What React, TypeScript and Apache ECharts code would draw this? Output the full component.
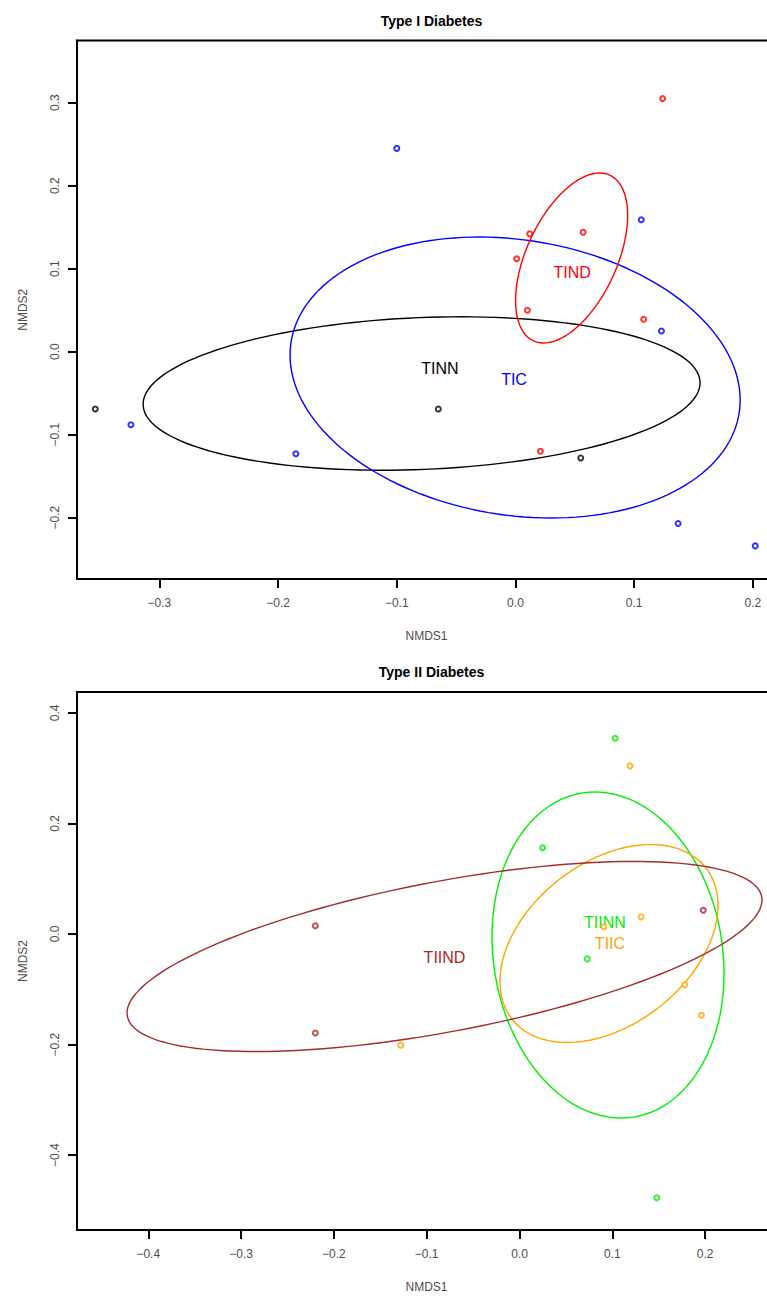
import React, { useEffect, useRef } from 'react';
import * as echarts from 'echarts';

// ---------- Type I Diabetes ----------
const t1Groups = ['TINN', 'TIC', 'TIND'];
const t1Colors = ['#000000', '#0000FF', '#FF0000'];
const tinnX = [-0.354, -0.065, 0.055];
const tinnY = [-0.069, -0.069, -0.128];
const ticX = [-0.1, 0.106, 0.123, -0.324, -0.185, 0.137, 0.202];
const ticY = [0.245, 0.159, 0.025, -0.088, -0.123, -0.207, -0.234];
const tindX = [0.124, 0.012, 0.057, 0.001, 0.01, 0.108, 0.021];
const tindY = [0.305, 0.142, 0.144, 0.112, 0.05, 0.039, -0.12];
// ellipse: centre x, centre y, conjugate semi-diameter u (x,y), v (x,y)
const t1Ellipses = [
  [-0.0791, -0.0504, 0.2346, 0.0139, 0.0026, -0.0914],
  [-0.0003, -0.0311, 0.1896, -0.0271, 0, -0.1671],
  [0.0473, 0.1129, 0.0472, 0.0512, 0, -0.0887],
];
const t1LabelX = [-0.0636, -0.0012, 0.0477];
const t1LabelY = [-0.0201, -0.0329, 0.096];
const t1XRange = [-0.3694, 0.2195];
const t1YRange = [-0.2739, 0.375];
const t1XTicks = [-0.3, -0.2, -0.1, 0, 0.1, 0.2];
const t1YTicks = [-0.2, -0.1, 0, 0.1, 0.2, 0.3];

// ---------- Type II Diabetes ----------
const t2Groups = ['TIINN', 'TIIC', 'TIIND'];
const t2Colors = ['#00EE00', '#FFA500', '#A52A2A'];
const tiinnX = [0.103, 0.025, 0.073, 0.148];
const tiinnY = [0.354, 0.156, -0.045, -0.477];
const tiicX = [0.119, 0.131, 0.091, 0.178, 0.196, -0.128];
const tiicY = [0.304, 0.031, 0.013, -0.092, -0.147, -0.201];
const tiindX = [-0.22, -0.22, 0.198];
const tiindY = [0.015, -0.179, 0.043];
const t2Ellipses = [
  [0.0954, -0.038, -0.014, 0.2948, 0.1242, 0],
  [0.0964, -0.0172, 0.1175, 0.0687, 0, -0.1653],
  [-0.0808, -0.0407, 0.3421, 0.1022, 0, -0.1382],
];
const t2LabelX = [0.0921, 0.0975, -0.0808];
const t2LabelY = [0.0199, -0.0163, -0.0434];
const t2XRange = [-0.4768, 0.2764];
const t2YRange = [-0.5353, 0.4376];
const t2XTicks = [-0.4, -0.3, -0.2, -0.1, 0, 0.1, 0.2];
const t2YTicks = [-0.4, -0.2, 0, 0.2, 0.4];

const FONT = '"Liberation Sans", Arial, Helvetica, sans-serif';
const fmt = (v: number) => {
  const s = Math.abs(v).toFixed(1);
  return v < -1e-9 ? '\u2212' + s : s;
};

function zip(xs: number[], ys: number[]) {
  return xs.map((x, i) => [x, ys[i]]);
}

function makeAxes(idx: number, xr: number[], yr: number[], xt: number[], yt: number[]) {
  const x = {
    type: 'value',
    gridIndex: idx,
    min: xr[0],
    max: xr[1],
    name: 'NMDS1',
    nameLocation: 'middle',
    nameGap: 51,
    nameTextStyle: { color: '#4d4d4d', fontSize: 12, fontFamily: FONT },
    splitLine: { show: false },
    axisLine: { show: true, onZero: false, lineStyle: { color: '#000', width: 2 } },
    axisTick: { show: true, length: 9, customValues: xt, lineStyle: { color: '#000', width: 2 } },
    axisLabel: {
      show: true,
      customValues: xt,
      margin: 18,
      formatter: fmt,
      color: '#4d4d4d',
      fontSize: 12,
      fontFamily: FONT,
    },
  };
  const y = {
    type: 'value',
    gridIndex: idx,
    min: yr[0],
    max: yr[1],
    name: 'NMDS2',
    nameLocation: 'middle',
    nameGap: 48,
    nameRotate: 90,
    nameTextStyle: { color: '#4d4d4d', fontSize: 12, fontFamily: FONT },
    splitLine: { show: false },
    axisLine: { show: true, onZero: false, lineStyle: { color: '#000', width: 2 } },
    axisTick: { show: true, length: 9, customValues: yt, lineStyle: { color: '#000', width: 2 } },
    axisLabel: {
      show: true,
      customValues: yt,
      rotate: 90,
      margin: 16,
      formatter: fmt,
      color: '#4d4d4d',
      fontSize: 12,
      fontFamily: FONT,
    },
  };
  return { x, y };
}

function ellipseSeries(idx: number, ells: number[][], colors: string[]) {
  return {
    type: 'custom',
    xAxisIndex: idx,
    yAxisIndex: idx,
    silent: true,
    z: 3,
    data: ells.map((e, i) => ({ value: e, itemStyle: { color: colors[i] } })),
    encode: { x: 0, y: 1 },
    renderItem: (params: any, api: any) => {
      const cx = api.value(0), cy = api.value(1);
      const ux = api.value(2), uy = api.value(3);
      const vx = api.value(4), vy = api.value(5);
      const pts: number[][] = [];
      const n = 160;
      for (let k = 0; k <= n; k++) {
        const t = (k / n) * Math.PI * 2;
        const c = Math.cos(t), s = Math.sin(t);
        pts.push(api.coord([cx + ux * c + vx * s, cy + uy * c + vy * s]));
      }
      return {
        type: 'polyline',
        shape: { points: pts },
        style: { stroke: colors[params.dataIndex], fill: 'none', lineWidth: 1.4 },
      };
    },
  };
}

function labelSeries(idx: number, lx: number[], ly: number[], names: string[], colors: string[]) {
  return {
    type: 'custom',
    xAxisIndex: idx,
    yAxisIndex: idx,
    silent: true,
    z: 4,
    data: lx.map((x, i) => [x, ly[i]]),
    renderItem: (params: any, api: any) => {
      const p = api.coord([api.value(0), api.value(1)]);
      return {
        type: 'text',
        x: p[0],
        y: p[1],
        style: {
          text: names[params.dataIndex],
          fill: colors[params.dataIndex],
          font: '16px ' + FONT,
          align: 'center',
          verticalAlign: 'middle',
        },
      };
    },
  };
}

function pointSeries(idx: number, name: string, data: number[][], color: string) {
  return {
    type: 'scatter',
    name,
    xAxisIndex: idx,
    yAxisIndex: idx,
    symbol: 'circle',
    symbolSize: 5,
    z: 5,
    itemStyle: { color: '#ffffff', borderColor: color, borderWidth: 2 },
    data,
  };
}

export default function App() {
  const ref = useRef<HTMLDivElement>(null);
  useEffect(() => {
    document.body.style.margin = '0';
    document.body.style.overflow = 'hidden';
    document.documentElement.style.overflow = 'hidden';
    if (!ref.current) return;
    const chart = echarts.init(ref.current, undefined, { renderer: 'svg' });
    const a1 = makeAxes(0, t1XRange, t1YRange, t1XTicks, t1YTicks);
    const a2 = makeAxes(1, t2XRange, t2YRange, t2XTicks, t2YTicks);
    const gridStyle = { show: true, borderColor: '#000', borderWidth: 2, backgroundColor: 'transparent' };
    chart.setOption({
      animation: false,
      backgroundColor: '#ffffff',
      title: [
        {
          text: 'Type I Diabetes',
          left: 426.5,
          top: 9,
          textAlign: 'center',
          textStyle: { fontSize: 14, fontWeight: 'bold', color: '#000', fontFamily: FONT },
        },
        {
          text: 'Type II Diabetes',
          left: 426.5,
          top: 660,
          textAlign: 'center',
          textStyle: { fontSize: 14, fontWeight: 'bold', color: '#000', fontFamily: FONT },
        },
      ],
      grid: [
        { left: 77, top: 40.5, width: 699, height: 538.5, ...gridStyle },
        { left: 77, top: 692, width: 699, height: 538, ...gridStyle },
      ],
      xAxis: [a1.x, a2.x],
      yAxis: [a1.y, a2.y],
      series: [
        ellipseSeries(0, t1Ellipses, t1Colors),
        labelSeries(0, t1LabelX, t1LabelY, t1Groups, t1Colors),
        pointSeries(0, 'TINN', zip(tinnX, tinnY), t1Colors[0]),
        pointSeries(0, 'TIC', zip(ticX, ticY), t1Colors[1]),
        pointSeries(0, 'TIND', zip(tindX, tindY), t1Colors[2]),
        ellipseSeries(1, t2Ellipses, t2Colors),
        labelSeries(1, t2LabelX, t2LabelY, t2Groups, t2Colors),
        pointSeries(1, 'TIINN', zip(tiinnX, tiinnY), t2Colors[0]),
        pointSeries(1, 'TIIC', zip(tiicX, tiicY), t2Colors[1]),
        pointSeries(1, 'TIIND', zip(tiindX, tiindY), t2Colors[2]),
      ],
    });
    return () => chart.dispose();
  }, []);
  return (
    <div
      ref={ref}
      style={{ position: 'absolute', left: 0, top: 0, width: 800, height: 1296, background: '#fff' }}
    />
  );
}
